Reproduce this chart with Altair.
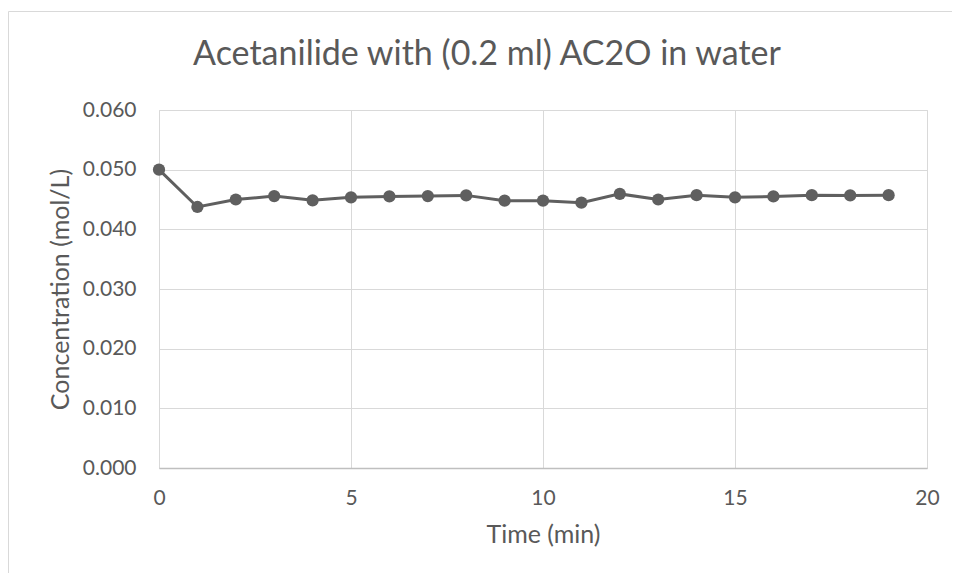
import altair as alt
import pandas as pd

time_min = list(range(20))
concentration = [0.0500, 0.04375, 0.0450, 0.04557, 0.04486, 0.04536, 0.04552, 0.04557,
                 0.04569, 0.0448, 0.0448, 0.04447, 0.04594, 0.0450, 0.04572, 0.04536,
                 0.04552, 0.04572, 0.04569, 0.04572]
chart_title = "Acetanilide with (0.2 ml) AC2O in water"

df = pd.DataFrame({"t": time_min, "c": concentration})

FONT = "Lato"
TXT = "#595959"
LINE = "#5f5f5f"
W, H = 768, 358

x = alt.X("t:Q", title="Time (min)",
          scale=alt.Scale(domain=[0, 20], nice=False),
          axis=alt.Axis(values=[0, 5, 10, 15, 20], grid=True, gridColor="#d9d9d9",
                        domain=True, domainColor="#bfbfbf", domainWidth=1.3, ticks=False,
                        labelFlush=False,
                        labelPadding=19, labelFontSize=21, labelColor=TXT, labelFont=FONT,
                        titleFontSize=25, titleColor=TXT, titleFont=FONT, titleFontWeight="normal",
                        titlePadding=14))
y = alt.Y("c:Q", title="Concentration (mol/L)",
          scale=alt.Scale(domain=[0, 0.06], nice=False),
          axis=alt.Axis(values=[0, 0.01, 0.02, 0.03, 0.04, 0.05, 0.06], format=".3f",
                        grid=True, gridColor="#d9d9d9", domain=False, ticks=False,
                        labelFlush=False,
                        labelPadding=23, labelFontSize=21, labelColor=TXT, labelFont=FONT,
                        titleFontSize=25, titleColor=TXT, titleFont=FONT, titleFontWeight="normal",
                        titlePadding=9))

base = alt.Chart(df)
line = base.mark_line(color=LINE, strokeWidth=3).encode(x=x, y=y)
pts = base.mark_point(filled=True, color=LINE, size=150, opacity=1).encode(x="t:Q", y="c:Q")

one = pd.DataFrame({"label": [chart_title]})
border = alt.Chart(one).mark_rect(
    fill=None, stroke="#d9d9d9", strokeWidth=1
).encode(x=alt.value(-150.5), x2=alt.value(900), y=alt.value(-98.5), y2=alt.value(600))

title = alt.Chart(one).mark_text(
    font=FONT, fontSize=34, color=TXT, align="center", baseline="alphabetic"
).encode(text="label:N", x=alt.value(328), y=alt.value(-45))

chart = alt.layer(border, line, pts, title).properties(
    width=W, height=H,
    autosize=alt.AutoSizeParams(type="none"),
    padding={"left": 151, "top": 102, "right": 25, "bottom": 105},
).configure_view(stroke=None).configure(background="white")

chart.save("out.html", embed_options={"renderer": "svg", "actions": False})
